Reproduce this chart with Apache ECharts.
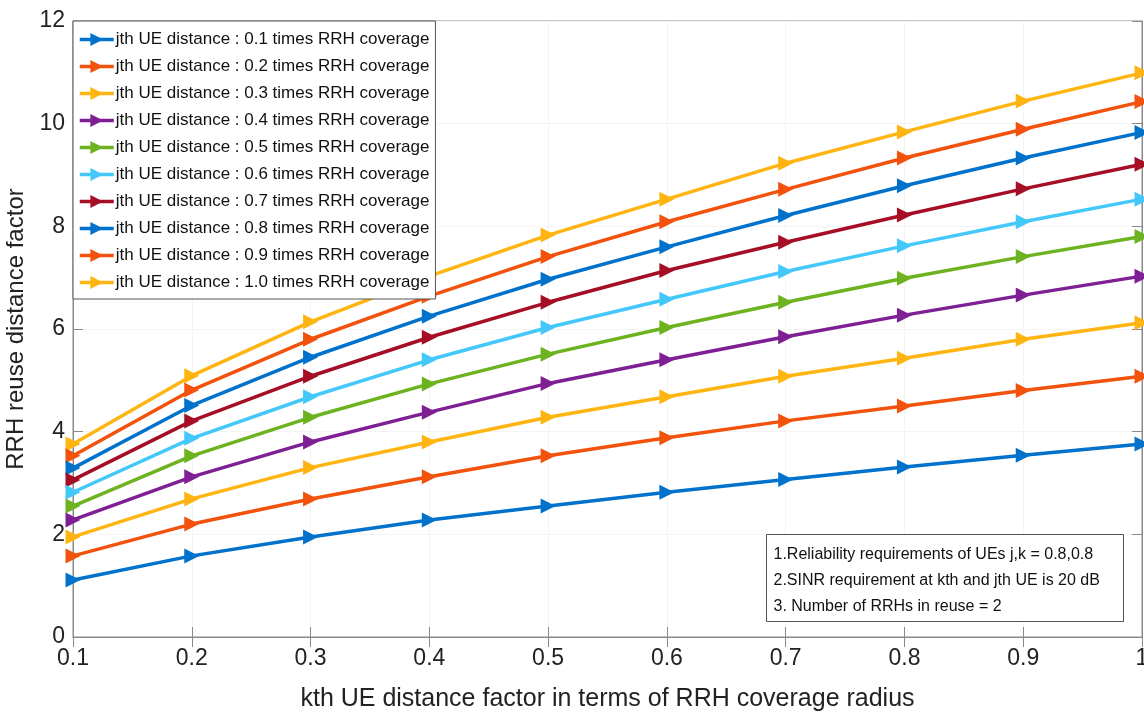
<!DOCTYPE html>
<html>
<head>
<meta charset="UTF-8">
<title>RRH reuse distance factor</title>
<script src="https://cdn.jsdelivr.net/npm/echarts@6/dist/echarts.min.js"></script>
<style>
  html, body { margin: 0; padding: 0; background: #fff; }
</style>
</head>
<body>
<div id="chart" style="width:1144px; height:716px;"></div>
<script>
// kth UE distance factor (x axis)
var kDist = ['0.1', '0.2', '0.3', '0.4', '0.5', '0.6', '0.7', '0.8', '0.9', '1'];
var yTicks = [0, 2, 4, 6, 8, 10, 12];

// one series per jth UE distance
var names = [
    'jth UE distance : 0.1 times RRH coverage',
    'jth UE distance : 0.2 times RRH coverage',
    'jth UE distance : 0.3 times RRH coverage',
    'jth UE distance : 0.4 times RRH coverage',
    'jth UE distance : 0.5 times RRH coverage',
    'jth UE distance : 0.6 times RRH coverage',
    'jth UE distance : 0.7 times RRH coverage',
    'jth UE distance : 0.8 times RRH coverage',
    'jth UE distance : 0.9 times RRH coverage',
    'jth UE distance : 1.0 times RRH coverage'
];
var j01 = [1.11, 1.58, 1.95, 2.28, 2.55, 2.82, 3.07, 3.31, 3.54, 3.76];
var j02 = [1.58, 2.20, 2.69, 3.12, 3.53, 3.88, 4.21, 4.50, 4.80, 5.08];
var j03 = [1.95, 2.69, 3.30, 3.80, 4.28, 4.68, 5.08, 5.43, 5.80, 6.12];
var j04 = [2.28, 3.12, 3.80, 4.38, 4.94, 5.40, 5.85, 6.27, 6.66, 7.03];
var j05 = [2.55, 3.53, 4.28, 4.93, 5.51, 6.03, 6.52, 6.99, 7.41, 7.80];
var j06 = [2.82, 3.87, 4.68, 5.40, 6.03, 6.58, 7.12, 7.62, 8.09, 8.53];
var j07 = [3.06, 4.21, 5.08, 5.84, 6.52, 7.14, 7.69, 8.22, 8.73, 9.21];
var j08 = [3.29, 4.51, 5.45, 6.25, 6.97, 7.60, 8.21, 8.79, 9.33, 9.83];
var j09 = [3.53, 4.81, 5.80, 6.64, 7.41, 8.09, 8.72, 9.33, 9.89, 10.43];
var j10 = [3.76, 5.09, 6.14, 7.03, 7.83, 8.53, 9.23, 9.84, 10.44, 10.99];
var values = [j01, j02, j03, j04, j05, j06, j07, j08, j09, j10];

var colors = ['#0072CC', '#F2520C', '#FFB511', '#7E1F94', '#6DB31F',
              '#44C8FA', '#A50E25', '#0072CC', '#F2520C', '#FFB511'];

var notes = [
    '1.Reliability requirements of UEs j,k = 0.8,0.8',
    '2.SINR requirement at kth and jth UE is 20 dB',
    '3. Number of RRHs in reuse = 2'
];

var sans = 'Arial, "Liberation Sans", sans-serif';
var axisGrey = '#8a8a8a';

var chart = echarts.init(document.getElementById('chart'), null, {renderer: 'canvas'});

var series = values.map(function (v, i) {
    return {
        name: names[i],
        type: 'line',
        data: v,
        symbol: 'triangle',
        symbolRotate: -90,
        symbolSize: 15,
        showSymbol: true,
        itemStyle: {color: colors[i]},
        lineStyle: {color: colors[i], width: 3.5},
        z: 10 - i,
        animation: false
    };
});

var option = {
    backgroundColor: '#fff',
    color: colors,
    grid: {left: 73, right: 2, top: 21, bottom: 79, show: true, borderColor: axisGrey, borderWidth: 1,
           outerBoundsMode: 'none'},
    legend: {
        orient: 'vertical',
        left: 73,
        top: 21,
        padding: [10, 6, 8, 5],
        itemWidth: 34,
        itemHeight: 16,
        itemGap: 10,
        backgroundColor: '#fff',
        borderColor: '#555',
        borderWidth: 1,
        lineStyle: {width: 3.5},
        textStyle: {fontFamily: sans, fontSize: 17, color: '#111', padding: [0, 0, 0, -3]},
        data: names
    },
    xAxis: [{
        type: 'category',
        data: kDist,
        boundaryGap: false,
        axisLine: {lineStyle: {color: axisGrey}},
        axisTick: {inside: true, length: 10, lineStyle: {color: axisGrey}},
        axisLabel: {fontFamily: sans, fontSize: 23, color: '#222', margin: 10},
        splitLine: {show: true, lineStyle: {color: '#f4f4f4'}},
        name: 'kth UE distance factor in terms of RRH coverage radius',
        nameLocation: 'middle',
        nameGap: 50,
        nameTextStyle: {fontFamily: sans, fontSize: 25, color: '#222'}
    }, {
        type: 'category',
        data: kDist,
        boundaryGap: false,
        position: 'top',
        axisLine: {lineStyle: {color: axisGrey}},
        axisTick: {inside: true, length: 10, lineStyle: {color: axisGrey}},
        axisLabel: {show: false}
    }],
    yAxis: [{
        type: 'value',
        min: 0,
        max: 12,
        interval: 2,
        axisLine: {show: true, lineStyle: {color: axisGrey}},
        axisTick: {show: true, inside: true, length: 10, lineStyle: {color: axisGrey}},
        axisLabel: {fontFamily: sans, fontSize: 23, color: '#222', margin: 8,
            formatter: function (v) { return yTicks.indexOf(v) >= 0 ? String(v) : ''; }},
        splitLine: {show: true, lineStyle: {color: '#f4f4f4'}},
        name: 'RRH reuse distance factor',
        nameLocation: 'middle',
        nameGap: 34,
        nameTextStyle: {fontFamily: sans, fontSize: 24, color: '#222'}
    }, {
        type: 'value',
        min: 0,
        max: 12,
        interval: 2,
        position: 'right',
        axisLine: {show: true, lineStyle: {color: axisGrey}},
        axisTick: {show: true, inside: true, length: 10, lineStyle: {color: axisGrey}},
        axisLabel: {show: false},
        splitLine: {show: false}
    }],
    graphic: [{
        type: 'group',
        right: 20,
        bottom: 94,
        z: 100,
        children: [{
            type: 'rect',
            z: 100,
            shape: {x: 0, y: 0, width: 357, height: 87},
            style: {fill: '#fff', stroke: '#555', lineWidth: 1}
        }, {
            type: 'text',
            z: 101,
            left: 7,
            top: 7,
            style: {
                text: notes.join('\n'),
                font: '16px ' + sans,
                lineHeight: 26,
                fill: '#111'
            }
        }]
    }],
    series: series
};

chart.setOption(option);
</script>
</body>
</html>
